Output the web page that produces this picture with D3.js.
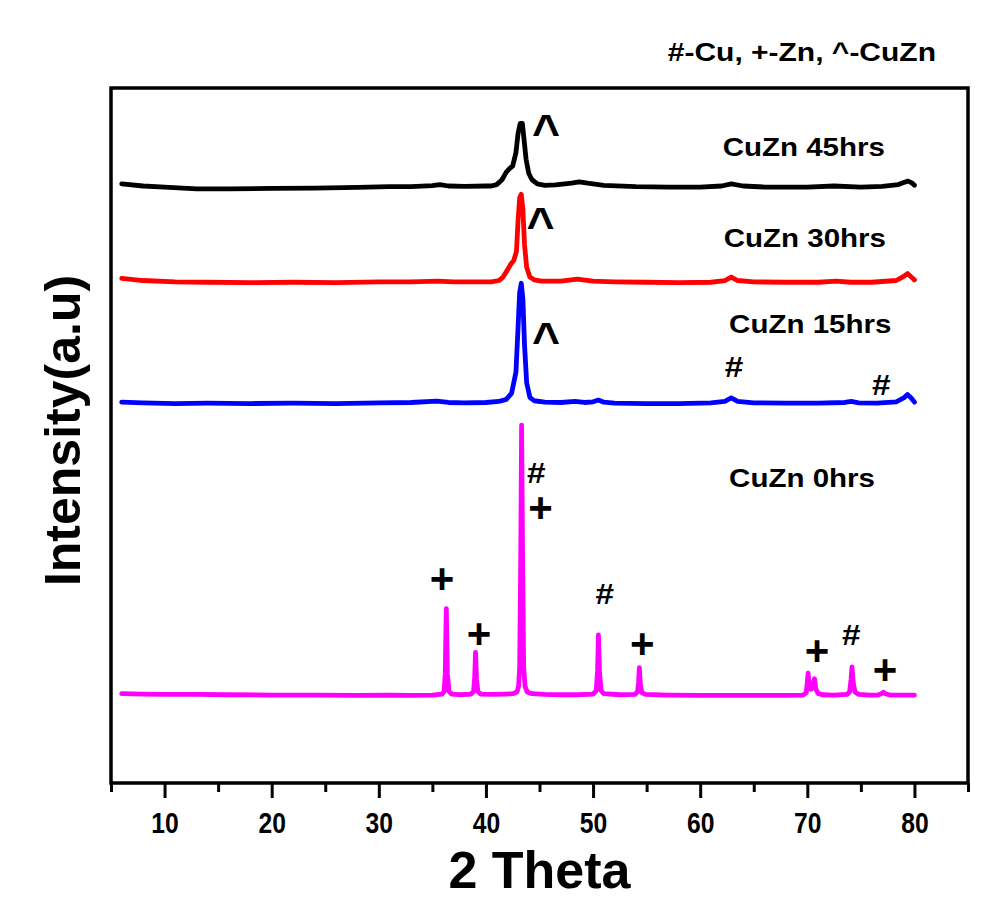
<!DOCTYPE html>
<html>
<head>
<meta charset="utf-8">
<script src="https://cdn.jsdelivr.net/npm/d3@7"></script>
<style>
  html, body { margin: 0; padding: 0; background: #ffffff; }
  svg { display: block; font-family: Arial, "Liberation Sans", Helvetica, sans-serif; }
</style>
</head>
<body>
<svg id="chart" width="1006" height="913"></svg>
<script>
// XRD patterns of milled Cu-Zn powders, stacked with vertical offsets.
// 2θ positions (degrees) and relative intensities for each milling time.

const tt45 = [6, 8, 10, 13, 16, 20, 24, 28, 31, 33, 35, 35.7, 36.5, 38, 40, 40.5, 41.0, 41.5, 41.9, 42.2, 42.5, 42.8, 43.0, 43.2, 43.4, 43.55, 43.75, 44.0, 44.3, 44.8, 45.5, 46.5, 48, 48.7, 49.5, 51, 54, 57, 60, 62, 62.9, 64, 66, 70, 72.5, 75, 77, 78.5, 79.0, 79.4, 79.8, 80];
const i45  = [5, 2, 0.5, -2, -2, -1.5, -1, 0, 1, 1, 2.5, 4, 2, 1.5, 2, 2, 4, 11, 22, 27, 31, 50, 78, 92, 92, 70, 40, 20, 11, 5, 3, 3.5, 6, 8, 6, 3, 1, 0.5, 0.5, 2, 5, 2, 0.5, 0.5, 2, 0.5, 1.5, 4, 7, 9, 6, 3];

const tt30 = [6, 8, 11, 14, 18, 22, 26, 30, 33, 35.5, 37, 39, 40.5, 41.2, 41.6, 42.0, 42.3, 42.6, 42.85, 43.0, 43.15, 43.3, 43.45, 43.6, 43.8, 44.1, 44.5, 45.2, 47, 48.5, 50, 52, 55, 58, 61, 62.3, 62.9, 63.5, 65, 68, 71, 72.7, 74, 76, 78.3, 79.0, 79.35, 79.7, 80];
const i30  = [6, 3, 1, 0.5, 0, 0.5, 0, 1, 1, 2, 1, 1, 1, 3, 8, 18, 26, 32, 45, 90, 122, 127, 105, 55, 22, 8, 4, 2, 2, 5, 2, 1, 0.5, 0, 0.5, 3, 8, 3, 1, 0.5, 0.5, 2, 0.5, 0.5, 3, 9, 13, 8, 4];

const tt15 = [6, 8, 11, 14, 18, 22, 26, 30, 33, 35.4, 36.5, 38, 40, 41.2, 41.9, 42.4, 42.8, 43.0, 43.15, 43.3, 43.45, 43.6, 43.8, 44.1, 44.5, 45.5, 47, 48.3, 49.2, 50.0, 50.5, 51.0, 52, 55, 58, 61, 62.3, 62.9, 63.5, 65, 68, 71, 73.5, 74.1, 74.8, 76.5, 78.3, 79.0, 79.35, 79.7, 80.0];
const i15  = [2, 1, 0, 0.5, 0, 0.5, 0, 1, 1.5, 3.5, 1.5, 1, 1.5, 3, 6, 15, 45, 110, 160, 173, 150, 85, 30, 9, 4, 2, 1.5, 3, 1.5, 2.5, 5, 2, 0.5, 0, 0, 1, 3, 8, 3, 1, 0.5, 0.5, 1.5, 3, 1, 0.5, 2.5, 8, 13, 8, 2];

const tt0 = [6, 8, 10, 13, 16, 20, 24, 28, 31, 33, 35.0, 35.9, 36.1, 36.2, 36.3, 36.4, 36.55, 36.8, 37.5, 38.6, 38.85, 38.95, 39.03, 39.12, 39.25, 39.5, 40.5, 41.8, 42.5, 42.9, 43.05, 43.15, 43.25, 43.33, 43.42, 43.52, 43.65, 43.85, 44.3, 45.5, 47, 48.5, 50.0, 50.3, 50.42, 50.5, 50.6, 50.75, 51.0, 52.5, 53.9, 54.15, 54.25, 54.32, 54.42, 54.55, 54.9, 57, 60, 63, 66, 68, 69.6, 69.9, 70.0, 70.07, 70.2, 70.35, 70.55, 70.67, 70.8, 71.0, 71.4, 72.5, 73.7, 73.95, 74.08, 74.17, 74.28, 74.45, 74.8, 75.8, 76.6, 76.95, 77.1, 77.3, 77.7, 79, 80];
const i0  = [1.5, 1, 0.5, 0.5, 0, -0.5, -0.5, -1, -0.5, -1, -0.5, 1, 5, 30, 124, 30, 5, 1, 0, 1, 5, 25, 61, 22, 5, 1, 0.5, 1, 1.5, 4, 12, 40, 200, 388, 200, 40, 12, 4, 1.5, 0.5, 0, 0, 1, 6, 35, 86, 32, 6, 1.5, 0, 0.5, 4, 18, 39, 15, 3, 0.5, -0.5, -1, -1, -1, -1, -0.5, 3, 18, 31, 12, 8, 15, 23, 8, 2, 0, -0.5, 0.5, 4, 22, 40, 18, 4, 0.5, -0.5, -0.5, 2, 3.5, 1.5, -0.5, -0.5, -0.5];

const seriesNames   = ["CuZn 45hrs", "CuZn 30hrs", "CuZn 15hrs", "CuZn 0hrs"];
const seriesColors  = ["#000000", "#ff0000", "#0000ff", "#ff00ff"];
const seriesOffsets = [857, 720, 546, 127];
const seriesX = [tt45, tt30, tt15, tt0];
const seriesY = [i45, i30, i15, i0];

// Label anchors (2θ, intensity) for each series name
const labelX = [62.1, 62.2, 62.7, 62.7];
const labelY = [902, 771, 647, 426];

// Phase markers: symbol, 2θ, intensity
const markSymbols = ["^", "^", "^", "#", "+", "+", "+", "#", "+", "+", "#", "+", "#", "#"];
const markX = [45.6, 45.1, 45.6, 44.7, 45.1, 35.9, 39.35, 51.1, 54.6, 70.9, 74.1, 77.25, 63.15, 76.9];
const markY = [950, 816, 650, 446, 398, 295, 216, 272, 201, 191, 214, 164, 599, 574];

const xTicks = [10, 20, 30, 40, 50, 60, 70, 80];
const xMinorTicks = [5, 15, 25, 35, 45, 55, 65, 75, 85];

const legendText = "#-Cu, +-Zn, ^-CuZn";
const xTitle = "2 Theta";
const yTitle = "Intensity(a.u)";

// ---- layout ----
const svg = d3.select("#chart");
const box = { left: 111, right: 968, top: 88, bottom: 783 };

const x = d3.scaleLinear().domain([5, 85]).range([box.left, box.right]);
const y = d3.scaleLinear().domain([0, 1000]).range([box.bottom, box.top]);

// traces
const line = d3.line().x(d => x(d[0])).y(d => y(d[1]));
seriesNames.forEach((name, k) => {
  const pts = seriesX[k].map((t, j) => [t, seriesY[k][j] + seriesOffsets[k]]);
  svg.append("path")
    .datum(pts)
    .attr("d", line)
    .attr("fill", "none")
    .attr("stroke", seriesColors[k])
    .attr("stroke-width", 4.8)
    .attr("stroke-linejoin", "round")
    .attr("stroke-linecap", "round");
});

// frame
svg.append("rect")
  .attr("x", box.left).attr("y", box.top)
  .attr("width", box.right - box.left).attr("height", box.bottom - box.top)
  .attr("fill", "none").attr("stroke", "#000").attr("stroke-width", 3.5);

// bottom axis: major + minor ticks
const axisMajor = d3.axisBottom(x).tickValues(xTicks).tickSize(15).tickPadding(14).tickFormat(d3.format("d"));
const gx = svg.append("g").attr("transform", `translate(0,${box.bottom})`).call(axisMajor);
gx.select(".domain").remove();
gx.selectAll(".tick line").attr("stroke", "#000").attr("stroke-width", 3);
gx.selectAll(".tick text")
  .attr("font-size", 29).attr("font-weight", "bold").attr("fill", "#000")
  .attr("font-family", "Arial, 'Liberation Sans', sans-serif")
  .attr("transform", "scale(0.85,1)");

const axisMinor = d3.axisBottom(x).tickValues(xMinorTicks).tickSize(9).tickFormat("");
const gxm = svg.append("g").attr("transform", `translate(0,${box.bottom})`).call(axisMinor);
gxm.select(".domain").remove();
gxm.selectAll(".tick line").attr("stroke", "#000").attr("stroke-width", 3);

// axis titles
svg.append("text")
  .attr("x", (box.left + box.right) / 2).attr("y", 888)
  .attr("text-anchor", "middle")
  .attr("font-size", 52).attr("font-weight", "bold")
  .text(xTitle);

svg.append("text")
  .attr("transform", `translate(80,${(box.top + box.bottom) / 2 - 5}) rotate(-90)`)
  .attr("text-anchor", "middle")
  .attr("font-size", 50).attr("font-weight", "bold")
  .text(yTitle);

// legend key (slightly widened lettering)
svg.append("text")
  .attr("transform", "translate(936,61) scale(1.2,1)")
  .attr("text-anchor", "end")
  .attr("font-size", 25).attr("font-weight", "bold")
  .text(legendText);

// series labels
seriesNames.forEach((name, k) => {
  svg.append("text")
    .attr("transform", `translate(${x(labelX[k])},${y(labelY[k])}) scale(1.18,1)`)
    .attr("font-size", 25).attr("font-weight", "bold")
    .text(name);
});

// phase markers (centred on their anchor)
const markSize = { "^": 48, "#": 29, "+": 42 };
const markShift = { "^": "0.52em", "#": "0.36em", "+": "0.36em" };
const markStretch = { "^": 1, "#": 1.15, "+": 1 };
markSymbols.forEach((s, k) => {
  svg.append("text")
    .attr("transform", `translate(${x(markX[k])},${y(markY[k])}) scale(${markStretch[s]},1)`)
    .attr("dy", markShift[s])
    .attr("text-anchor", "middle")
    .attr("font-size", markSize[s]).attr("font-weight", "bold")
    .text(s);
});
</script>
</body>
</html>
